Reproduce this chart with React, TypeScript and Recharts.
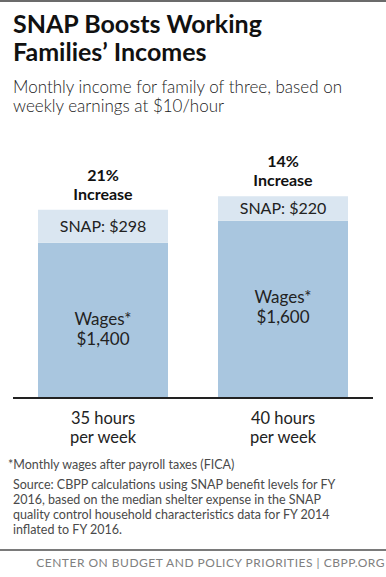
import { BarChart, Bar, XAxis, YAxis, LabelList } from "recharts";

// values
const categories = ["35 hours\nper week", "40 hours\nper week"];
const wages = [1400, 1600];
const snap = [298, 220];
const increasePct = [21, 14];

const data = categories.map((c, i) => ({
  name: c,
  wages: wages[i],
  snap: snap[i],
  pct: increasePct[i],
}));

const FONT = "Lato, 'Open Sans', sans-serif";

const fmt = (v: number) => "$" + v.toLocaleString("en-US");

const HoursTick = (props: any) => {
  const { x, y, payload } = props;
  const lines = String(payload.value).split("\n");
  return (
    <text x={x} y={y} textAnchor="middle" fill="#222" fontFamily={FONT} fontSize={16.5}>
      {lines.map((l, i) => (
        <tspan key={i} x={x} dy={i === 0 ? 18 : 19}>
          {l}
        </tspan>
      ))}
    </text>
  );
};

const WagesLabel = (props: any) => {
  const { x, y, width, value } = props;
  const cx = x + width / 2;
  return (
    <text x={cx} y={y + 82} textAnchor="middle" fill="#222" fontFamily={FONT} fontSize={17}>
      <tspan x={cx} dy={0}>
        Wages*
      </tspan>
      <tspan x={cx} dy={20}>
        {fmt(value)}
      </tspan>
    </text>
  );
};

const SnapLabel = (props: any) => {
  const { x, y, width, height, value } = props;
  const cx = x + width / 2;
  return (
    <text x={cx} y={y + height / 2 + 6} textAnchor="middle" fill="#222" fontFamily={FONT} fontSize={16}>
      {"SNAP: " + fmt(value)}
    </text>
  );
};

const PctLabel = (props: any) => {
  const { x, y, width, value } = props;
  const cx = x + width / 2;
  return (
    <text x={cx} y={y - 10} textAnchor="middle" fill="#111" fontFamily={FONT} fontSize={16} fontWeight={700}>
      <tspan x={cx} dy={-19}>
        {value + "%"}
      </tspan>
      <tspan x={cx} dy={19}>
        Increase
      </tspan>
    </text>
  );
};

export default function App() {
  return (
    <div
      style={{
        position: "relative",
        width: 386,
        height: 577,
        background: "#fff",
        fontFamily: FONT,
        overflow: "hidden",
      }}
    >
      <style>{`body{margin:0}`}</style>
      <div style={{ position: "absolute", top: 0, left: 0, width: 386, height: 2, background: "#6b6b6b" }} />
      <div
        style={{
          position: "absolute",
          top: 9,
          left: 13,
          fontSize: 25,
          lineHeight: "28px",
          fontWeight: 700,
          color: "#111",
        }}
      >
        SNAP Boosts Working
        <br />
        Families’ Incomes
      </div>
      <div
        style={{
          position: "absolute",
          top: 77,
          left: 13,
          fontSize: 17,
          lineHeight: "19px",
          fontWeight: 300,
          color: "#222",
        }}
      >
        Monthly income for family of three, based on
        <br />
        weekly earnings at $10/hour
      </div>

      <div style={{ position: "absolute", top: 120, left: 0 }}>
        <BarChart
          width={386}
          height={328}
          data={data}
          margin={{ top: 12, right: 13, bottom: 0, left: 13 }}
          barCategoryGap={25}
        >
          <XAxis
            dataKey="name"
            tickLine={false}
            axisLine={{ stroke: "#222", strokeWidth: 2 }}
            tick={<HoursTick />}
            height={50}
            interval={0}
          />
          <YAxis hide domain={[0, 2400]} />
          <Bar dataKey="wages" stackId="a" fill="#a9c6df" isAnimationActive={false}>
            <LabelList dataKey="wages" content={<WagesLabel />} />
          </Bar>
          <Bar dataKey="snap" stackId="a" fill="#dae6f1" isAnimationActive={false}>
            <LabelList dataKey="snap" content={<SnapLabel />} />
            <LabelList dataKey="pct" content={<PctLabel />} />
          </Bar>
        </BarChart>
      </div>

      <div
        style={{
          position: "absolute",
          top: 457,
          left: 8,
          fontSize: 12.5,
          lineHeight: "15px",
          color: "#4a4a4a",
        }}
      >
        *Monthly wages after payroll taxes (FICA)
      </div>
      <div
        style={{
          position: "absolute",
          top: 477,
          left: 13,
          fontSize: 12.5,
          lineHeight: "15px",
          color: "#4a4a4a",
        }}
      >
        Source: CBPP calculations using SNAP benefit levels for FY
        <br />
        2016, based on the median shelter expense in the SNAP
        <br />
        quality control household characteristics data for FY 2014
        <br />
        inflated to FY 2016.
      </div>
      <div style={{ position: "absolute", top: 549, left: 0, width: 386, height: 2, background: "#7a7a7a" }} />
      <div
        style={{
          position: "absolute",
          top: 555,
          right: 1,
          fontSize: 12,
          lineHeight: "15px",
          letterSpacing: 0.5,
          color: "#808080",
          whiteSpace: "nowrap",
        }}
      >
        CENTER ON BUDGET AND POLICY PRIORITIES | CBPP.ORG
      </div>
    </div>
  );
}
